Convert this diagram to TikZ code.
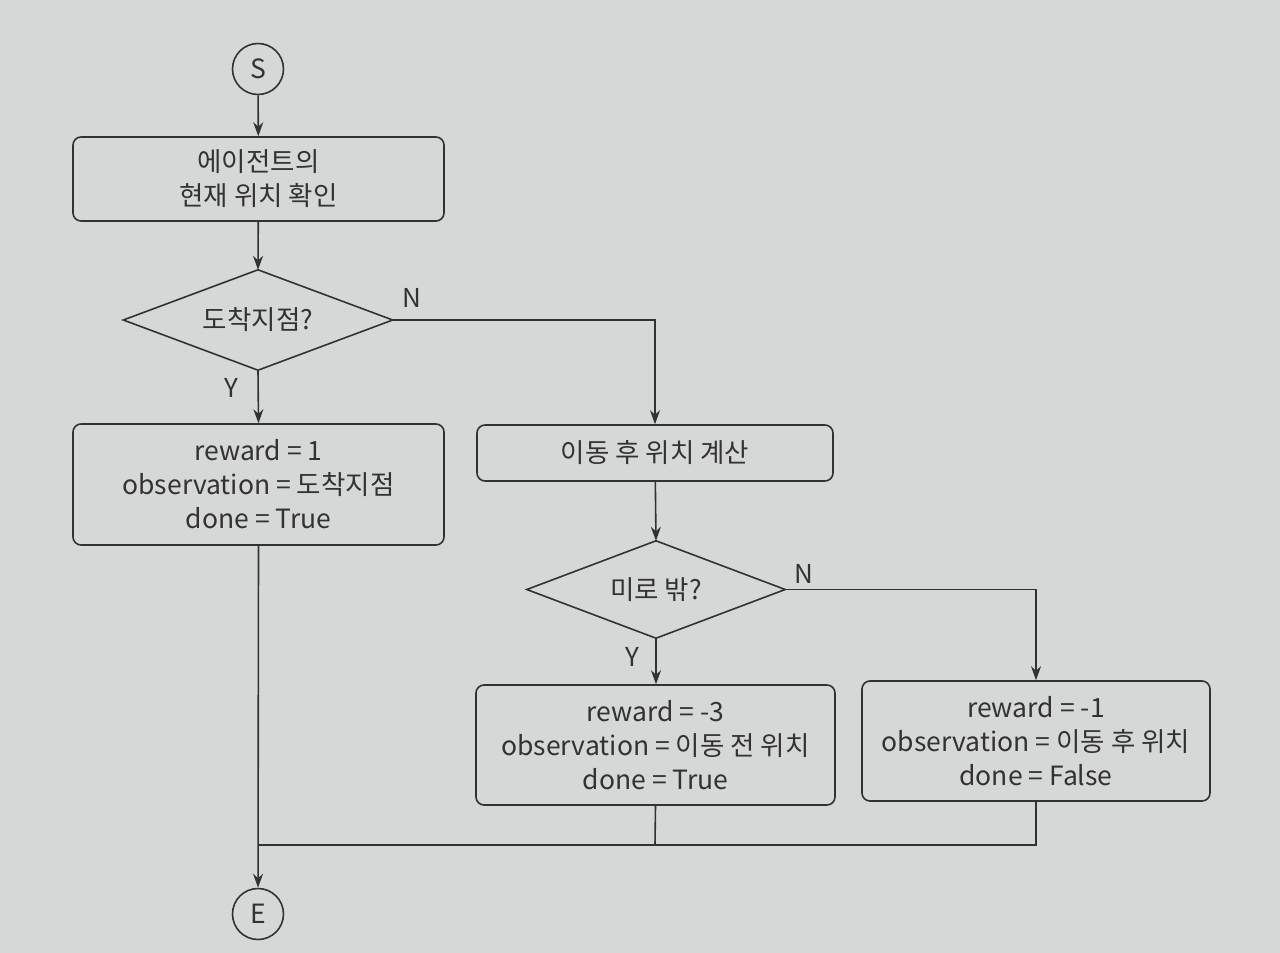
\documentclass[tikz,border=0pt]{standalone}
\usepackage{fontspec}
\setmainfont{Noto Sans CJK KR}
\usetikzlibrary{shapes.geometric,arrows.meta}
\definecolor{paper}{RGB}{214,216,215}
\definecolor{ink}{RGB}{50,50,50}
\tikzset{
  x=1pt,y=-1pt,
  every node/.style={text=ink,font=\fontsize{26.5}{34}\selectfont},
  procbox/.style={draw=ink,line width=1.6pt,rounded corners=8pt,inner sep=0pt,align=center},
  decision/.style={rectangle,inner sep=0pt,align=center},
  term/.style={draw=ink,line width=1.6pt,circle,minimum size=51pt,inner sep=0pt},
  flow/.style={draw=ink,line width=1.6pt,-{Stealth[length=14pt,width=10pt]}},
  line/.style={draw=ink,line width=1.6pt},
  lbl/.style={font=\fontsize{26}{28}\selectfont}
}
\begin{document}
\begin{tikzpicture}
\fill[paper] (0,0) rectangle (1280,953);
\useasboundingbox (0,0) rectangle (1280,953);

\node[term] (S) at (258,69) {S};
\node[procbox,minimum width=371pt,minimum height=84pt] (b1) at (258.5,179) {에이전트의\\현재 위치 확인};
\node[decision,minimum width=269pt,minimum height=100pt] (d1) at (258,320) {도착지점?};
\draw[line] (d1.north) -- (d1.east) -- (d1.south) -- (d1.west) -- cycle;
\node[procbox,minimum width=371pt,minimum height=121pt] (b2) at (258.5,484.5) {reward = 1\\observation = 도착지점\\done = True};
\node[procbox,minimum width=356pt,minimum height=56pt] (b3) at (655,453) {이동 후 위치 계산};
\node[decision,minimum width=258pt,minimum height=97pt] (d2) at (656,589.5) {미로 밖?};
\draw[line] (d2.north) -- (d2.east) -- (d2.south) -- (d2.west) -- cycle;
\node[procbox,minimum width=359pt,minimum height=120pt] (b4) at (655.5,745) {reward = -3\\observation = 이동 전 위치\\done = True};
\node[procbox,minimum width=348pt,minimum height=120pt] (b5) at (1036,741) {reward = -1\\observation = 이동 후 위치\\done = False};
\node[term] (E) at (258,914) {E};

\coordinate (n1) at (655,320);
\coordinate (n2) at (1036,589.5);
\coordinate (j) at (258,845);
\coordinate (j4) at (655,845);
\coordinate (j5) at (1036,845);

\draw[flow] (S) -- (b1);
\draw[flow] (b1) -- (d1.north);
\draw[flow] (d1.south) -- (b2.north);
\draw[flow] (d1.east) -- (n1) -- (b3.north);
\draw[flow] (b3) -- (d2.north);
\draw[flow] (d2.south) -- (b4.north -| d2.south);
\draw[flow] (d2.east) -- (n2) -- (b5.north);
\draw[flow] (b2.south) -- (E);
\draw[line] (b4.south) -- (j4);
\draw[line] (b5.south) -- (j5) -- (j);

\node[lbl] (N1) at (412,298) {N};
\node[lbl] (Y1) at (231,388) {Y};
\node[lbl] (N2) at (804,574) {N};
\node[lbl] (Y2) at (632,657) {Y};
\end{tikzpicture}
\end{document}
